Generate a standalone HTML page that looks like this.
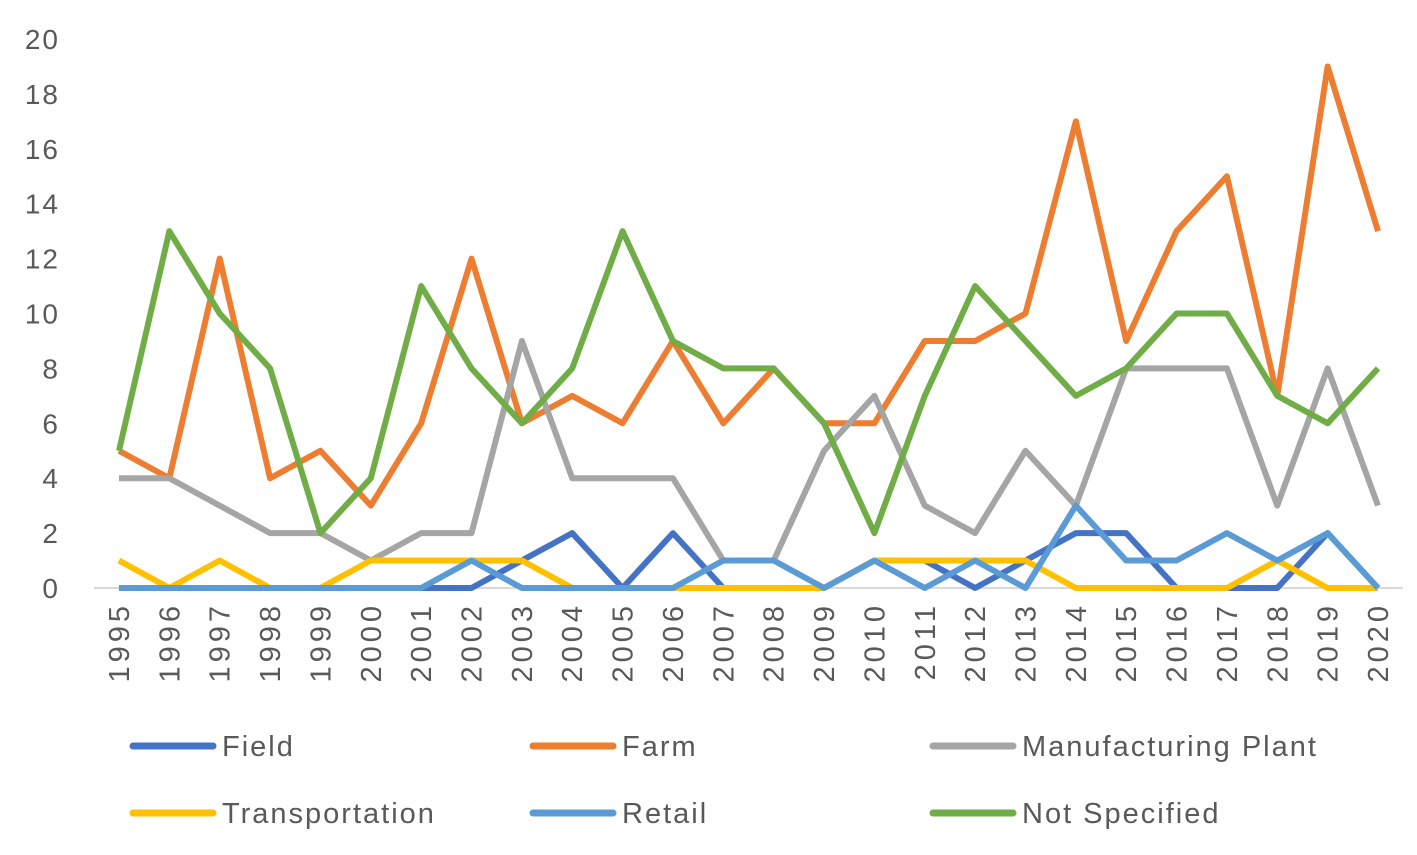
<!DOCTYPE html>
<html><head><meta charset="utf-8"><style>
body{margin:0;background:#fff;}
svg text{font-family:"Liberation Sans",sans-serif;fill:#595959;}
</style></head><body>
<svg id="chart" width="1417" height="850" xmlns="http://www.w3.org/2000/svg"></svg>
<script>
const years = [1995,1996,1997,1998,1999,2000,2001,2002,2003,2004,2005,2006,2007,2008,2009,2010,2011,2012,2013,2014,2015,2016,2017,2018,2019,2020];
const yTicks = [0,2,4,6,8,10,12,14,16,18,20];
const field = [0,0,0,0,0,0,0,0,1,2,0,2,0,0,0,1,1,0,1,2,2,0,0,0,2,0];
const farm = [5,4,12,4,5,3,6,12,6,7,6,9,6,8,6,6,9,9,10,17,9,13,15,7,19,13];
const manufacturing = [4,4,3,2,2,1,2,2,9,4,4,4,1,1,5,7,3,2,5,3,8,8,8,3,8,3];
const transportation = [1,0,1,0,0,1,1,1,1,0,0,0,0,0,0,1,1,1,1,0,0,0,0,1,0,0];
const retail = [0,0,0,0,0,0,0,1,0,0,0,0,1,1,0,1,0,1,0,3,1,1,2,1,2,0];
const notSpecified = [5,13,10,8,2,4,11,8,6,8,13,9,8,8,6,2,7,11,9,7,8,10,10,7,6,8];
const seriesNames = ["Field","Farm","Manufacturing Plant","Transportation","Retail","Not Specified"];
const seriesData = [field,farm,manufacturing,transportation,retail,notSpecified];
const colors = ["#4472C4","#ED7D31","#A5A5A5","#FFC000","#5B9BD5","#70AD47"];

const NS="http://www.w3.org/2000/svg";
const svg=document.getElementById('chart');
const x0=119,x1=1378,yBase=588,yTop=39;
const xs=i=>x0+(x1-x0)*i/(years.length-1);
const ys=v=>yBase-(yBase-yTop)*v/20;
function mk(t,a){const e=document.createElementNS(NS,t);for(const k in a)e.setAttribute(k,a[k]);svg.appendChild(e);return e;}

const axis=mk('line',{x1:94,x2:1403,y1:yBase,y2:yBase,stroke:'#d9d9d9','stroke-width':2});



yTicks.forEach(v=>{
  const t=mk('text',{x:60,y:ys(v)+10,'text-anchor':'end','font-size':28,'letter-spacing':2});
  t.textContent=v;
  
  
});
years.forEach((yr,i)=>{
  const t=mk('text',{x:0,y:0,'text-anchor':'end','font-size':29,'letter-spacing':4,transform:`translate(${xs(i)+10},602) rotate(-90)`});
  t.textContent=yr;
  
  
});
seriesData.forEach((d,s)=>{
  const pts=d.map((v,i)=>xs(i)+','+ys(v)).join(' ');
  const p=mk('polyline',{points:pts,fill:'none',stroke:colors[s],'stroke-width':6,'stroke-linejoin':'round'});
  
  
});
const lx=[133,533,933],ly=[746,813];
seriesNames.forEach((n,s)=>{
  const x=lx[s%3],y=ly[Math.floor(s/3)];
  const l=mk('line',{x1:x,x2:x+80,y1:y,y2:y,stroke:colors[s],'stroke-width':7,'stroke-linecap':'round'});
  
  
  const t=mk('text',{x:x+89,y:y+10,'font-size':29,'letter-spacing':2});
  t.textContent=n;
  
  
});
</script>
</body></html>
